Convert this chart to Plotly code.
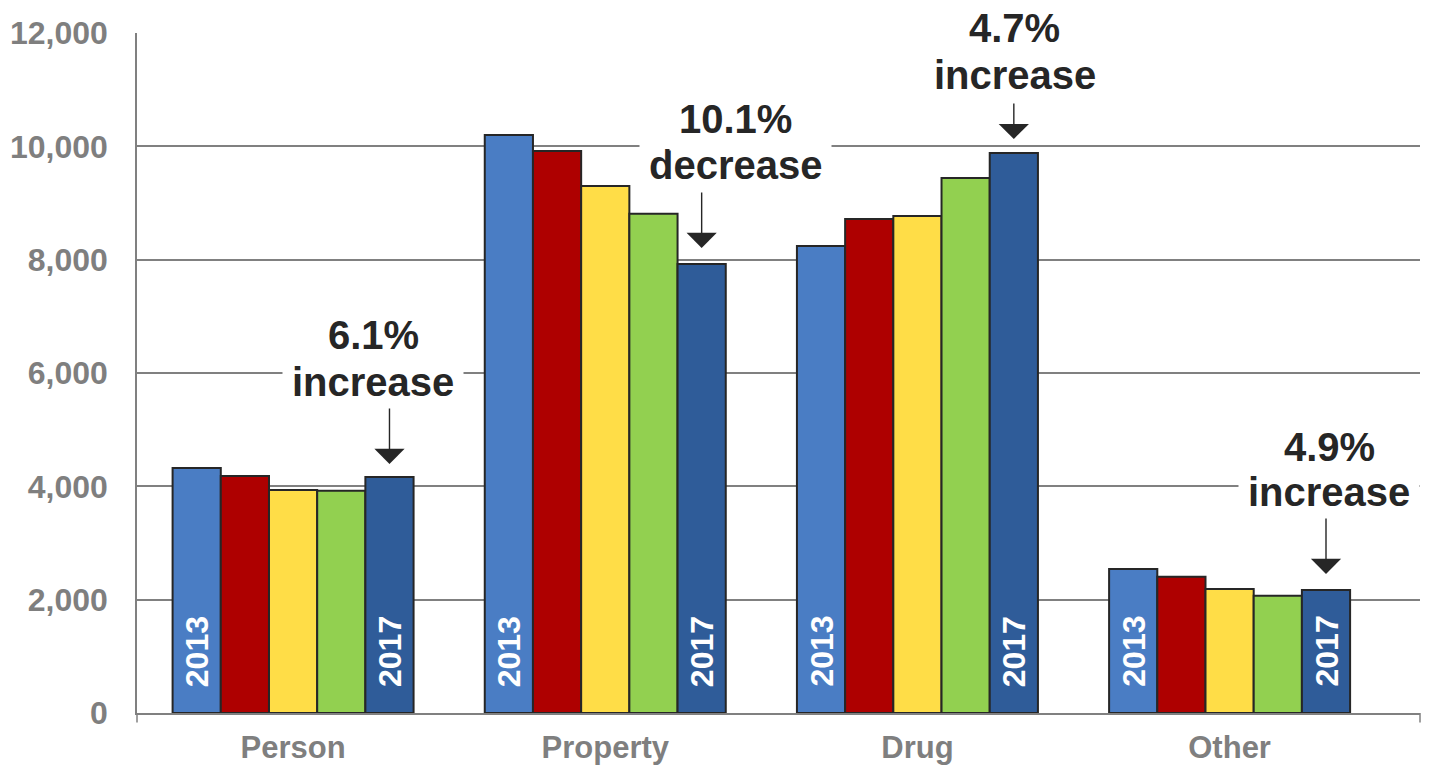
import plotly.graph_objects as go

categories = ["Person", "Property", "Drug", "Other"]
years = ["2013", "2014", "2015", "2016", "2017"]
values_2013 = [4324, 10200, 8241, 2541]
values_2014 = [4182, 9918, 8717, 2406]
values_2015 = [3935, 9300, 8770, 2188]
values_2016 = [3923, 8810, 9441, 2071]
values_2017 = [4165, 7925, 9882, 2171]
change_pct = ["6.1%", "10.1%", "4.7%", "4.9%"]
change_word = ["increase", "decrease", "increase", "increase"]
y_ticks = [0, 2000, 4000, 6000, 8000, 10000, 12000]

series = [values_2013, values_2014, values_2015, values_2016, values_2017]
colors = ["#4A7DC4", "#AE0000", "#FFDD47", "#92D050", "#2F5C99"]

FONT = "Liberation Sans, Arial, sans-serif"
BARGAP = 0.228
n = len(series)
bw = (1 - BARGAP) / n

fig = go.Figure()
for k, (yr, vals, col) in enumerate(zip(years, series, colors)):
    fig.add_trace(go.Bar(
        name=yr, x=categories, y=vals,
        marker=dict(color=col, line=dict(color="#262626", width=2)),
        hoverinfo="skip",
    ))

def bar_x(i, k):
    return i - (1 - BARGAP) / 2 + (k + 0.5) * bw

annotations = []
# year labels inside first and last bars
for i in range(len(categories)):
    for k in (0, n - 1):
        annotations.append(dict(
            x=bar_x(i, k), y=0, xref="x", yref="y",
            text="<b>%s</b>" % years[k], showarrow=False, textangle=-90,
            xanchor="center", yanchor="bottom", yshift=24,
            font=dict(family=FONT, size=32, color="white"),
        ))

# change labels (two lines) and arrows; offsets in pixels relative to 2017 bar top
label_shift = [(-16, 142, 95), (34, 145, 99), (1, 125, 78), (3, 143, 98)]
arrow_geom = [(-70, 13), (-73, 16), (-51, 14), (-73, 16)]
for i in range(len(categories)):
    xs, y1, y2 = label_shift[i]
    for txt, ysh in ((change_word[i], y2), (change_pct[i], y1)):
        annotations.append(dict(
            x=bar_x(i, n - 1), y=values_2017[i], xref="x", yref="y",
            text="<b>%s</b>" % txt, showarrow=False,
            xanchor="center", yanchor="middle", xshift=xs, yshift=ysh,
            bgcolor="white", borderpad=9,
            font=dict(family=FONT, size=40, color="#262626"),
        ))
for i in range(len(categories)):
    ay, so = arrow_geom[i]
    annotations.append(dict(
        x=bar_x(i, n - 1), y=values_2017[i], xref="x", yref="y",
        text="", showarrow=True, ax=0, ay=ay, standoff=so,
        arrowhead=1, arrowsize=3.6, arrowwidth=1.4, arrowcolor="#262626",
        font=dict(size=1),
    ))

shapes = [
    dict(type="line", xref="paper", yref="paper", x0=0, x1=0, y0=0, y1=-0.014,
         line=dict(color="#808080", width=1.5)),
    dict(type="line", xref="paper", yref="paper", x0=1, x1=1, y0=0, y1=-0.014,
         line=dict(color="#808080", width=1.5)),
]

fig.update_layout(
    width=1447, height=767,
    margin=dict(l=137, r=27, t=33, b=54, autoexpand=False),
    paper_bgcolor="white", plot_bgcolor="white",
    barmode="group", bargap=BARGAP, bargroupgap=0,
    showlegend=False,
    annotations=annotations,
    shapes=shapes,
    font=dict(family=FONT),
)
fig.update_xaxes(
    automargin=False,
    showline=True, linecolor="#808080", linewidth=2,
    ticks="", showgrid=False,
    tickfont=dict(family=FONT, size=31, color="#7F7F7F", weight="bold"),
    ticklabelstandoff=6,
)
fig.update_yaxes(
    automargin=False,
    range=[0, 12000], tickvals=y_ticks, tickformat=",d",
    showline=True, linecolor="#808080", linewidth=1.5,
    showgrid=True, gridcolor="#808080", gridwidth=1.5,
    zeroline=False, ticks="",
    tickfont=dict(family=FONT, size=32, color="#7F7F7F", weight="bold"),
    ticklabelstandoff=21,
)

fig.write_html("out.html")
